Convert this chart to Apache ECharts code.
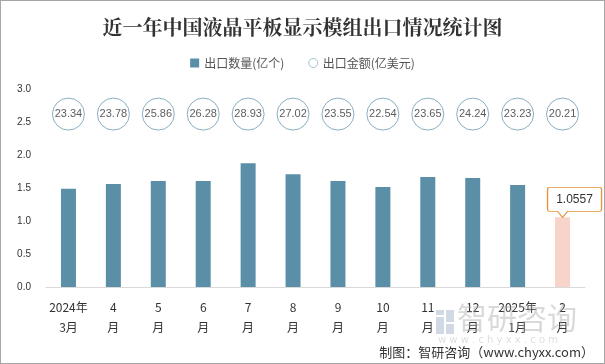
<!DOCTYPE html>
<html><head><meta charset="utf-8">
<script src="https://cdn.jsdelivr.net/npm/echarts@6/dist/echarts.min.js"></script>
<style>html,body{margin:0;padding:0;background:#fff}#c{width:603px;height:362px;border:1px solid #a6a6a6}</style>
</head><body><div id="c"></div>
<script>
const categories = ['2024年\n3月','4\n月','5\n月','6\n月','7\n月','8\n月','9\n月','10\n月','11\n月','12\n月','2025年\n1月','2\n月'];
const quantity = [1.49, 1.56, 1.605, 1.605, 1.875, 1.71, 1.605, 1.515, 1.665, 1.65, 1.545, 1.0557];
const amount = [23.34, 23.78, 25.86, 26.28, 28.93, 27.02, 23.55, 22.54, 23.65, 24.24, 23.23, 20.21];
const yTicks = {min: 0, max: 3, interval: 0.5};
const amountRowLevel = 2.62;

const chart = echarts.init(document.getElementById('c'));
const last = quantity.length - 1;
chart.setOption({
  animation: false,
  title: {text: '近一年中国液晶平板显示模组出口情况统计图', left: 'center', top: 11,
    textStyle: {fontFamily: 'Noto Serif CJK SC, Noto Sans CJK SC', fontSize: 20, fontWeight: 'bold', color: '#333'}},
  legend: {top: 51, left: 'center', itemGap: 24, itemWidth: 9, itemHeight: 9,
    textStyle: {fontFamily: 'Noto Sans CJK SC', fontSize: 12, color: '#555'},
    data: [{name: '出口数量(亿个)', icon: 'rect'}, {name: '出口金额(亿美元)', icon: 'circle', itemStyle: {color: '#fff', borderColor: '#8db3c7', borderWidth: 1}}]},
  grid: {left: 45, right: 19, top: 88, bottom: 76},
  xAxis: {type: 'category', data: categories,
    axisLine: {lineStyle: {color: '#d9d9d9'}}, axisTick: {show: false},
    axisLabel: {interval: 0, color: '#333', fontSize: 12, lineHeight: 20, margin: 10, fontFamily: 'Noto Sans CJK SC'}},
  yAxis: [{type: 'value', min: yTicks.min, max: yTicks.max, interval: yTicks.interval,
    splitLine: {show: false}, axisLine: {show: false}, axisTick: {show: false},
    axisLabel: {color: '#333', fontSize: 10, margin: 15, formatter: v => v.toFixed(1)}},
    {type: 'value', min: yTicks.min, max: yTicks.max, show: false}],
  series: [
    {name: '出口数量(亿个)', type: 'bar', barWidth: 15, itemStyle: {color: '#5b8fa8'},
      data: quantity.map((v, i) => i === last ? {value: v, itemStyle: {color: '#f8d3ca'}} : v),
      markPoint: {
        symbol: 'path://M2,0 H52 Q54,0 54,2 V22 Q54,24 52,24 H20 L15,30 L10,24 H2 Q0,24 0,22 V2 Q0,0 2,0 Z',
        symbolSize: [54, 30], symbolOffset: [12, -15], silent: true,
        itemStyle: {color: '#fff', borderColor: '#e8913a', borderWidth: 1},
        label: {show: true, position: 'inside', offset: [0, -3], color: '#333', fontSize: 12,
          formatter: p => String(p.value)},
        data: [{coord: [last, quantity[last]], value: quantity[last]}]
      }},
    {name: '出口金额(亿美元)', type: 'scatter', yAxisIndex: 1, symbol: 'circle', symbolSize: 32,
      itemStyle: {color: '#fff', borderColor: '#6a9ab2', borderWidth: 1},
      label: {show: true, position: 'inside', color: '#333', fontSize: 11, formatter: p => amount[p.dataIndex].toFixed(2)},
      data: amount.map((v, i) => [i, amountRowLevel])}
  ],
  graphic: [
    {type: 'text', right: 10, bottom: 4, style: {text: '制图：智研咨询（www.chyxx.com）', fill: '#333', font: '13px "Noto Sans CJK SC"'}},
    {type: 'rect', left: 435, top: 309, z: 100, shape: {width: 8, height: 5}, style: {fill: 'rgba(150,170,195,0.45)'}},
    {type: 'rect', left: 445, top: 309, z: 100, shape: {width: 8, height: 12}, style: {fill: 'rgba(150,170,195,0.45)'}},
    {type: 'rect', left: 435, top: 316, z: 100, shape: {width: 8, height: 17}, style: {fill: 'rgba(150,170,195,0.45)'}},
    {type: 'rect', left: 445, top: 323, z: 100, shape: {width: 8, height: 10}, style: {fill: 'rgba(150,170,195,0.45)'}},
    {type: 'text', left: 456, top: 302, z: 100, style: {text: '智研咨询', fill: 'rgba(160,160,160,0.4)', font: '30px "Noto Sans CJK SC"'}},
    {type: 'text', left: 437, top: 334, z: 100, style: {text: 'w w w . c h y x x . c o m', fill: 'rgba(160,160,160,0.35)', font: '10px "DejaVu Sans"'}}
  ]
});
</script></body></html>
